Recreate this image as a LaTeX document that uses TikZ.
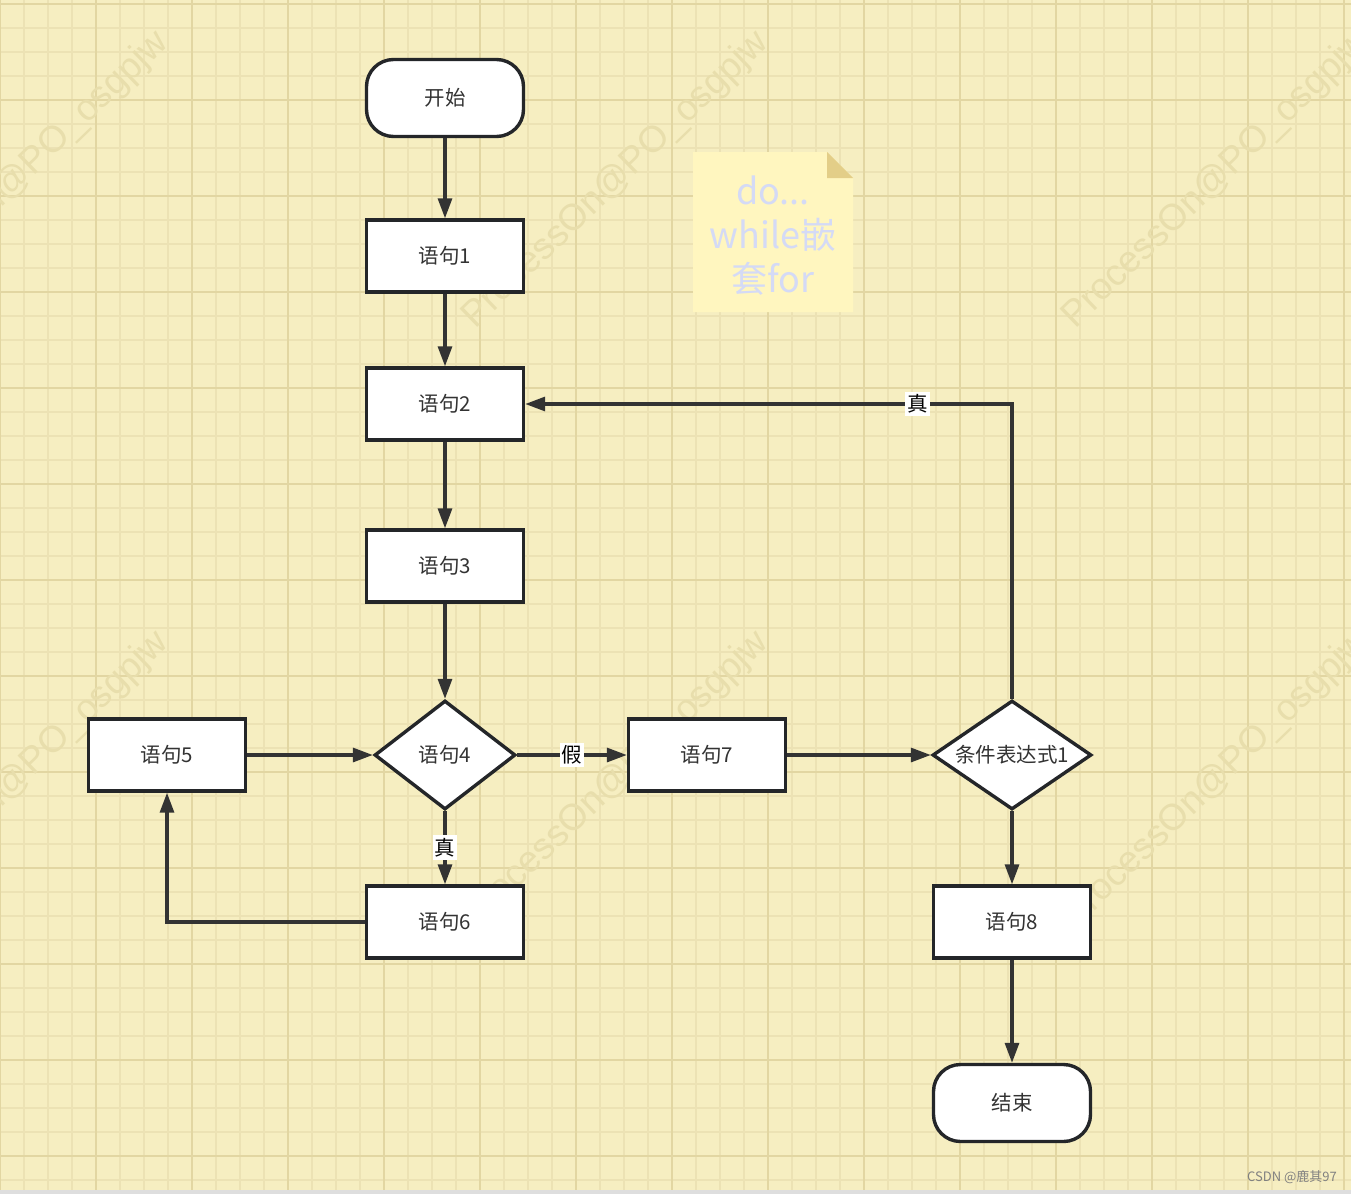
\documentclass[tikz,border=0pt]{standalone}
\usepackage{fontspec}
\setmainfont{Noto Sans CJK SC}
\newfontfamily\wmfont{Liberation Sans}
\usetikzlibrary{shapes.geometric,arrows.meta}
\definecolor{bgc}{RGB}{246,238,193}
\definecolor{gridminor}{RGB}{236,226,180}
\definecolor{gridmajor}{RGB}{226,214,162}
\definecolor{wmc}{RGB}{232,222,172}
\definecolor{bordc}{RGB}{36,38,41}
\definecolor{edgec}{RGB}{51,51,51}
\definecolor{txtc}{RGB}{51,51,51}
\definecolor{notefill}{RGB}{255,246,191}
\definecolor{notefold}{RGB}{227,206,136}
\definecolor{notetxt}{RGB}{212,218,246}
\definecolor{barc}{RGB}{222,222,222}
\tikzset{
  base/.style={draw=bordc, line width=3.4pt, fill=white, text=txtc, inner sep=0pt,
    font=\fontsize{20.5}{24}\selectfont},
  stepbox/.style={base, rectangle, minimum width=157pt, minimum height=72pt},
  termbox/.style={base, rectangle, rounded corners=27pt, minimum width=157pt, minimum height=77pt},
  decbox/.style={base, diamond, shape aspect=#1, minimum height=109pt},
  edge/.style={draw=edgec, line width=3.2pt, -{Triangle[length=20pt,width=14pt]}},
  lbl/.style={fill=white, text=black, inner xsep=2pt, inner ysep=3pt, font=\fontsize{20.5}{24}\selectfont},
  wm/.style={text=wmc, rotate=44, font=\wmfont\fontsize{37}{40}\selectfont, inner sep=0pt},
}
\begin{document}
\begin{tikzpicture}[x=1pt,y=-1pt]
\useasboundingbox (0,0) rectangle (1351,1194);
\fill[bgc] (0,0) rectangle (1351,1194);
% grid
\foreach \i in {0,...,56} {\draw[gridminor, line width=1.6pt] (\i*24,0) -- (\i*24,1190);}
\foreach \j in {0,...,49} {\draw[gridminor, line width=1.6pt] (0,4+\j*24) -- (1351,4+\j*24);}
\foreach \i in {0,...,14} {\draw[gridmajor, line width=2.2pt] (\i*96,0) -- (\i*96,1190);}
\foreach \j in {0,...,12} {\draw[gridmajor, line width=2.2pt] (0,4+\j*96) -- (1351,4+\j*96);}
\fill[barc] (0,1190) rectangle (1351,1194);
% watermarks
\foreach \wx in {16,616,1216} {
  \foreach \wy in {180,780} {
    \node[wm] (wm-\wx-\wy) at (\wx,\wy) {ProcessOn@PO\_osgpjw};
  }
}
% note
\fill[notefill] (693,152) -- (827,152) -- (853,178) -- (853,312) -- (693,312) -- cycle;
\fill[notefold] (827,152) -- (827,178) -- (853,178) -- cycle;
\node[text=notetxt, align=center, font=\fontsize{36}{44}\selectfont, inner sep=0pt] (note) at (773,236) {do...\\while嵌\\套for};
% nodes
\node[termbox] (start) at (445,98) {开始};
\node[stepbox] (s1) at (445,256) {语句1};
\node[stepbox] (s2) at (445,404) {语句2};
\node[stepbox] (s3) at (445,566) {语句3};
\node[decbox=1.28, minimum width=141pt] (s4) at (445,755) {语句4};
\node[stepbox] (s5) at (167,755) {语句5};
\node[stepbox] (s6) at (445,922) {语句6};
\node[stepbox] (s7) at (707,755) {语句7};
\node[decbox=1.45, minimum width=159pt] (c1) at (1012,755) {条件表达式1};
\node[stepbox] (s8) at (1012,922) {语句8};
\node[termbox] (end) at (1012,1103) {结束};
% edges
\draw[edge] (start) -- (s1);
\draw[edge] (s1) -- (s2);
\draw[edge] (s2) -- (s3);
\draw[edge] (s3) -- (s4);
\draw[edge] (s4.east) -- node[lbl] (lf) {假} (s7.west);
\draw[edge] (s4.south) -- node[lbl] (lt) {真} (s6.north);
\draw[edge] (s6.west) -| (s5.south);
\draw[edge] (s5.east) -- (s4.west);
\draw[edge] (s7.east) -- (c1.west);
\draw[edge] (c1.north) |- node[lbl, pos=0.597] (lt2) {真} (s2.east);
\draw[edge] (c1.south) -- (s8.north);
\draw[edge] (s8) -- (end);
% footer
\node[anchor=east, text={rgb,255:red,128;green,128;blue,128}, font=\fontsize{13}{15}\selectfont, inner sep=0pt] (csdn) at (1337,1177) {CSDN @鹿其97};
\end{tikzpicture}
\end{document}
